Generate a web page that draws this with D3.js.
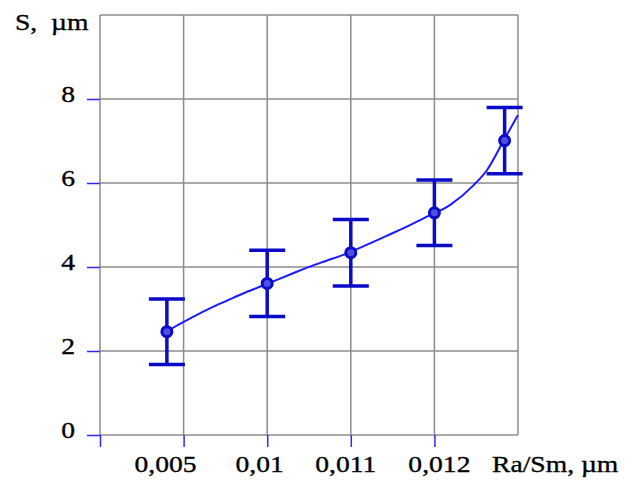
<!DOCTYPE html>
<html><head><meta charset="utf-8">
<script src="https://cdn.jsdelivr.net/npm/d3@7"></script>
<style>body{margin:0;background:#fff}svg{display:block}</style></head>
<body>
<svg id="c" width="632" height="480"></svg>
<script>
// ---- data ----
const xTickPos = [1, 2, 3, 4];
const xTickLabels = ["0,005", "0,01", "0,011", "0,012"];
const yTicks = [0, 2, 4, 6, 8];
const pointPos = [0.8, 2, 3, 4, 4.84];
const sValues = [2.46, 3.61, 4.34, 5.29, 7.01];
const sErrors = [0.78, 0.79, 0.79, 0.78, 0.79];
const fitPos = [0.8, 0.88, 1.12, 1.32, 1.52, 1.71, 1.91, 2.31, 2.51, 2.71, 2.91, 3.27, 3.47, 3.67, 3.87, 4.19, 4.47, 4.63, 4.82, 5.0];
const fitValues = [2.46, 2.56, 2.82, 3.02, 3.20, 3.37, 3.53, 3.85, 4.01, 4.15, 4.29, 4.60, 4.78, 4.96, 5.16, 5.48, 5.95, 6.31, 6.98, 7.62];
const yTitle = "S,  µm";
const xTitle = "Ra/Sm, µm";

// ---- drawing ----
const svg = d3.select("#c");
const x = d3.scaleLinear().domain([0, 5]).range([100, 518]);
const y = d3.scaleLinear().domain([0, 10]).range([435, 15]);
const gridColor = "#8c8c8c", tickColor = "#2a2aff", markColor = "#0a0ac8", lineColor = "#1a1aff";
const font = "'Liberation Serif','Times New Roman',serif";
const sx = 1.15;

// grid
const g = svg.append("g");
g.selectAll("line.v").data(xTickPos.concat([0, 5])).join("line")
  .attr("x1", d => x(d)).attr("x2", d => x(d)).attr("y1", y(10)).attr("y2", y(0))
  .attr("stroke", gridColor).attr("stroke-width", 1.5);
g.selectAll("line.h").data(yTicks.concat([10])).join("line")
  .attr("y1", d => y(d)).attr("y2", d => y(d)).attr("x1", x(0)).attr("x2", x(5))
  .attr("stroke", gridColor).attr("stroke-width", 1.5);

// axes (blue ticks)
const yAxis = d3.axisLeft(y).tickValues(yTicks).tickSize(13).tickFormat("");
const ya = svg.append("g").attr("transform", `translate(${x(0)},0)`).call(yAxis);
ya.select(".domain").remove();
ya.selectAll(".tick line").attr("stroke", tickColor).attr("stroke-width", 1.5);
const xAxis = d3.axisBottom(x).tickValues([0].concat(xTickPos)).tickSize(12).tickFormat("");
const xa = svg.append("g").attr("transform", `translate(0,${y(0)})`).call(xAxis);
xa.select(".domain").remove();
xa.selectAll(".tick line").attr("stroke", tickColor).attr("stroke-width", 1.5);

// tick labels
const txt = (t, px, py, anchor) => svg.append("text")
  .attr("transform", `translate(${px},${py}) scale(${sx},1)`)
  .attr("text-anchor", anchor).attr("font-family", font).attr("font-size", 24)
  .attr("fill", "#000").attr("stroke", "#000").attr("stroke-width", 0.35)
  .style("white-space", "pre").text(t);
yTicks.forEach(v => txt(String(v), 75, y(v) + 3, "end"));
const labelDx = [-18, -7.5, -5, 5];
xTickPos.forEach((p, i) => txt(xTickLabels[i], x(p) + labelDx[i], 472, "middle"));
txt(yTitle, 15, 30, "start");
txt(xTitle, 492, 472, "start");

// fit curve
const line = d3.line().x((d, i) => x(fitPos[i])).y(d => y(d)).curve(d3.curveMonotoneX);
svg.append("path").attr("d", line(fitValues)).attr("fill", "none")
  .attr("stroke", lineColor).attr("stroke-width", 2);

// error bars
const eb = svg.append("g").attr("stroke", markColor).attr("stroke-width", 3.5).attr("fill", "none");
sValues.forEach((v, i) => {
  const cx = x(pointPos[i]);
  eb.append("line").attr("x1", cx).attr("x2", cx).attr("y1", y(v + sErrors[i])).attr("y2", y(v - sErrors[i]));
  eb.append("line").attr("x1", cx - 18).attr("x2", cx + 18).attr("y1", y(v + sErrors[i])).attr("y2", y(v + sErrors[i]));
  eb.append("line").attr("x1", cx - 18).attr("x2", cx + 18).attr("y1", y(v - sErrors[i])).attr("y2", y(v - sErrors[i]));
});
svg.append("g").selectAll("circle").data(sValues).join("circle")
  .attr("cx", (d, i) => x(pointPos[i])).attr("cy", d => y(d)).attr("r", 5)
  .attr("fill", "#5050e0").attr("stroke", markColor).attr("stroke-width", 3);
</script>
</body></html>
